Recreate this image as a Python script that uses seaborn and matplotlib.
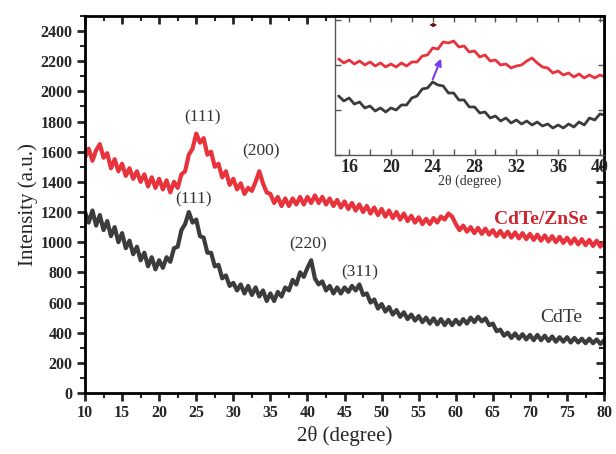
import numpy as np
import matplotlib
matplotlib.use("Agg")
import matplotlib.pyplot as plt
from matplotlib.ticker import MultipleLocator
import seaborn as sns

sns.set_style("ticks")
plt.rcParams['font.family'] = ['Liberation Serif', 'DejaVu Serif']
plt.rcParams['mathtext.fontset'] = 'stix'

# ---------------- data ----------------
two_theta = np.arange(10.0, 80.25, 0.5)   # 141 points, 0.5 deg step

cdte_znse = [
    1560, 1620, 1540, 1610, 1650, 1560, 1590, 1490, 1550, 1470,
    1520, 1440, 1490, 1420, 1470, 1400, 1450, 1370, 1430, 1360,
    1420, 1350, 1410, 1330, 1400, 1360, 1450, 1470, 1580, 1620,
    1720, 1660, 1690, 1580, 1600, 1500, 1520, 1430, 1470, 1380,
    1420, 1350, 1390, 1320, 1360, 1340, 1400, 1470, 1390, 1330,
    1320, 1260, 1300, 1240, 1290, 1240, 1290, 1250, 1300, 1250,
    1300, 1260, 1310, 1260, 1300, 1250, 1290, 1240, 1280, 1230,
    1270, 1220, 1260, 1210, 1250, 1200, 1240, 1190, 1230, 1180,
    1220, 1170, 1210, 1160, 1200, 1150, 1190, 1140, 1175, 1130,
    1165, 1120, 1155, 1120, 1160, 1130, 1170, 1150, 1190, 1170,
    1120, 1080, 1110, 1070, 1100, 1060, 1095, 1055, 1090, 1050,
    1080, 1040, 1075, 1035, 1070, 1030, 1065, 1025, 1060, 1020,
    1055, 1015, 1050, 1010, 1045, 1005, 1040, 1000, 1035, 995,
    1030, 990, 1025, 985, 1020, 980, 1015, 975, 1010, 970,
    1000,
]

cdte = [
    1200, 1130, 1210, 1110, 1180, 1080, 1140, 1040, 1100, 1000,
    1060, 960, 1010, 920, 970, 880, 930, 840, 900, 820,
    880, 830, 900, 870, 960, 970, 1080, 1120, 1200, 1130,
    1150, 1040, 1030, 930, 930, 840, 850, 760, 780, 710,
    730, 680, 720, 660, 710, 650, 700, 640, 680, 610,
    660, 610, 670, 640, 700, 680, 750, 720, 800, 770,
    830, 880, 760, 720, 740, 680, 710, 660, 700, 660,
    700, 670, 710, 680, 720, 650, 660, 600, 620, 560,
    590, 540, 570, 520, 550, 505, 535, 490, 520, 480,
    510, 470, 500, 460, 495, 455, 490, 450, 485, 450,
    485, 455, 490, 460, 500, 470, 505, 475, 495, 450,
    460, 410, 420, 380, 400, 365, 395, 360, 390, 355,
    385, 350, 385, 350, 380, 345, 375, 340, 370, 340,
    370, 335, 365, 335, 360, 330, 360, 330, 355, 325,
    350,
]

# inset (zoom 15-40 deg), arbitrary units
inset_theta = np.arange(15.0, 40.75, 0.5)   # 52 points
inset_cdte_znse = [
    960, 920, 950, 910, 940, 900, 930, 890, 920, 880,
    910, 880, 920, 890, 930, 930, 990, 1000, 1070, 1060,
    1130, 1120, 1140, 1080, 1090, 1030, 1040, 980, 1000, 940,
    950, 900, 910, 870, 890, 900, 940, 970, 920, 880,
    870, 820, 840, 800, 820, 780, 810, 770, 800, 770,
    800, 780,
]
inset_cdte = [
    590, 540, 570, 510, 530, 470, 490, 440, 470, 430,
    470, 450, 500, 500, 570, 590, 660, 670, 730, 700,
    690, 620, 620, 550, 550, 480, 480, 420, 430, 370,
    390, 340, 370, 320, 350, 310, 340, 300, 330, 290,
    310, 270, 300, 270, 310, 280, 330, 300, 370, 350,
    410, 400,
]

peak_labels = ["(111)", "(200)", "(111)", "(220)", "(311)"]
peak_pos = [(25.9, 1830), (33.7, 1600), (24.6, 1285), (40.1, 985), (47.1, 800)]
series_names = ["CdTe/ZnSe", "CdTe"]

RED = "#e8323c"
DARK = "#3c3c3c"

# ---------------- figure ----------------
fig = plt.figure(figsize=(6.16, 4.54), dpi=100)
ax = fig.add_axes([0.138, 0.1344, 0.8427, 0.8304])

sns.lineplot(x=two_theta, y=cdte_znse, ax=ax, color=RED, lw=3.0)
sns.lineplot(x=two_theta, y=cdte, ax=ax, color=DARK, lw=3.0)

ax.xaxis.set_major_locator(MultipleLocator(5))
ax.xaxis.set_minor_locator(MultipleLocator(2.5))
ax.yaxis.set_major_locator(MultipleLocator(200))
ax.yaxis.set_minor_locator(MultipleLocator(100))
ax.set_xlim(10, 80)
ax.set_ylim(0, 2500)
for s in ax.spines.values():
    s.set_linewidth(2.0)
    s.set_color("black")
    s.set_visible(True)
ax.tick_params(axis="both", which="major", direction="out", length=6, width=2,
               labelsize=11.5, pad=3)
ax.tick_params(axis="both", which="minor", direction="out", length=3.5, width=1.5)
ax.tick_params(axis="x", which="both", top=True, labeltop=False)
ax.tick_params(axis="y", which="both", right=True, labelright=False)
for lab in ax.get_xticklabels() + ax.get_yticklabels():
    lab.set_fontweight("bold")
# top/right ticks point inward
for t in ax.xaxis.get_major_ticks() + ax.xaxis.get_minor_ticks():
    t.tick2line.set_marker(3)
for t in ax.yaxis.get_major_ticks() + ax.yaxis.get_minor_ticks():
    t.tick2line.set_marker(0)

ax.set_xlabel("2θ (degree)", fontsize=15, labelpad=3)
ax.set_ylabel("Intensity (a.u.)", fontsize=15, labelpad=2)

for lab, (px, py) in zip(peak_labels, peak_pos):
    ax.text(px, py, lab, fontsize=12.5, color="#333333", ha="center", va="center")

ax.text(71.4, 1150, series_names[0], fontsize=14, fontweight="bold",
        color="#cc2630", ha="center", va="center")
ax.text(74.2, 500, series_names[1], fontsize=14, color="#333333",
        ha="center", va="center")

# ---------------- inset ----------------
axin = fig.add_axes([0.544, 0.6586, 0.4367, 0.3062])
axin.set_facecolor("white")
sns.lineplot(x=inset_theta, y=inset_cdte_znse, ax=axin, color=RED, lw=2.0)
sns.lineplot(x=inset_theta, y=inset_cdte, ax=axin, color=DARK, lw=2.0)
axin.xaxis.set_major_locator(MultipleLocator(4))
axin.xaxis.set_minor_locator(MultipleLocator(2))
axin.yaxis.set_major_locator(MultipleLocator(450))
axin.set_xlim(14.66, 40.4)
axin.set_ylim(0, 1390)
for s in axin.spines.values():
    s.set_linewidth(1.0)
    s.set_color("#555555")
axin.spines["right"].set_linewidth(2.0)
axin.spines["right"].set_color("black")
axin.spines["top"].set_linewidth(2.0)
axin.spines["top"].set_color("black")
axin.tick_params(axis="both", which="both", direction="in", length=4, width=1,
                 top=True, right=True, color="#555555")
axin.tick_params(axis="x", labelsize=13, pad=3)
axin.tick_params(axis="y", labelleft=False)
for lab in axin.get_xticklabels():
    lab.set_fontweight("bold")
axin.set_xlabel("2θ (degree)", fontsize=10, labelpad=-1, color="#333333")

axin.annotate("", xy=(24.9, 990), xytext=(23.9, 730),
              arrowprops=dict(arrowstyle="-|>", color="#7b3cf0", lw=1.5,
                              mutation_scale=10))
axin.annotate("", xy=(24.7, 1300), xytext=(23.4, 1300),
              arrowprops=dict(arrowstyle="<|-|>", color="#6b1a1a", lw=1.0,
                              mutation_scale=5))

fig.savefig("out.png", dpi=100)
